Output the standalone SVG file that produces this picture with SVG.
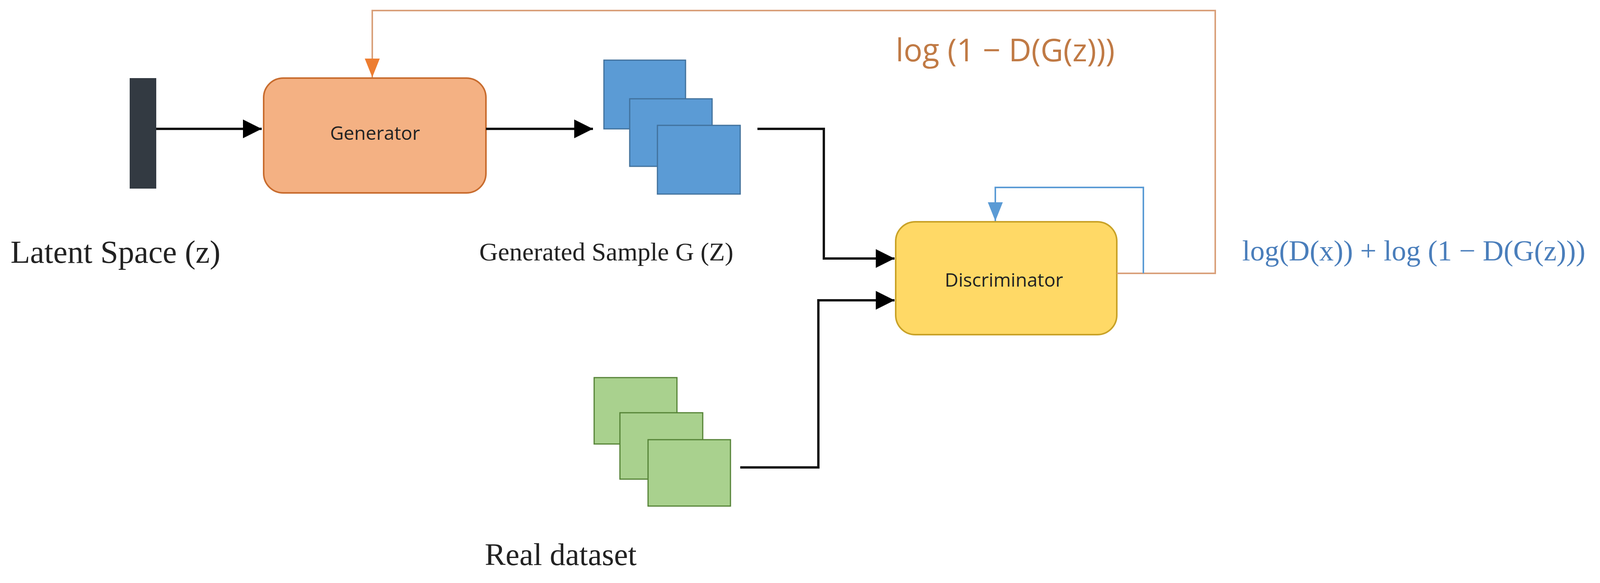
<svg xmlns="http://www.w3.org/2000/svg" width="4306" height="1493" viewBox="0 0 4306 1493">
<defs>
<style>
.serif{font-family:"Liberation Serif","DejaVu Serif",serif;fill:#222}
.sans{font-family:"Open Sans","Liberation Sans",sans-serif}
.blk{fill:none;stroke:#111;stroke-width:6}
</style>
<marker id="ab" viewBox="0 0 10 10" refX="10" refY="5" markerWidth="8" markerHeight="8" markerUnits="strokeWidth" orient="auto"><path d="M0,0L10,5L0,10z" fill="#000"/></marker>
<marker id="ao" viewBox="0 0 10 10" refX="10" refY="5" markerWidth="12" markerHeight="12" markerUnits="strokeWidth" orient="auto"><path d="M0,1L10,5L0,9z" fill="#ed7d31"/></marker>
<marker id="al" viewBox="0 0 10 10" refX="10" refY="5" markerWidth="12" markerHeight="12" markerUnits="strokeWidth" orient="auto"><path d="M0,1L10,5L0,9z" fill="#5b9bd5"/></marker>
</defs>
<rect width="4306" height="1493" fill="#fff"/>
<g id="latent"><rect x="332" y="200" width="68" height="283" fill="#333a42"/>
<text class="serif" x="27" y="673" font-size="82">Latent Space (z)</text></g>
<g id="generator"><rect x="675" y="200" width="569" height="294" rx="50" fill="#f4b183" stroke="#c86c2e" stroke-width="4"/>
<text class="sans" x="960" y="358" font-size="48" text-anchor="middle" fill="#222">Generator</text></g>
<g id="generated" fill="#5b9bd5" stroke="#41719c" stroke-width="3">
<rect x="1546" y="154" width="209" height="176"/><rect x="1612" y="253" width="211" height="173"/><rect x="1683" y="321" width="212" height="176"/>
<text class="serif" x="1227" y="667" font-size="66" stroke="none">Generated Sample G (Z)</text></g>
<g id="real" fill="#a9d18e" stroke="#548235" stroke-width="3">
<rect x="1521" y="967" width="212" height="170"/><rect x="1587" y="1057" width="212" height="170"/><rect x="1659" y="1126" width="211" height="170"/>
<text class="serif" x="1241" y="1447" font-size="80" stroke="none">Real dataset</text></g>
<g id="discriminator"><rect x="2293" y="568" width="566" height="289" rx="50" fill="#ffd966" stroke="#c9a227" stroke-width="4"/>
<text class="sans" x="2570" y="734" font-size="48" text-anchor="middle" fill="#222">Discriminator</text></g>
<g id="connectors">
<path class="blk" d="M400,330H670" marker-end="url(#ab)"/>
<path class="blk" d="M1244,330H1518" marker-end="url(#ab)"/>
<path class="blk" d="M1939,330H2109V662H2290" marker-end="url(#ab)"/>
<path class="blk" d="M1895,1197H2095V769H2290" marker-end="url(#ab)"/>
<path d="M2859,700H3111V27H953V198" fill="none" stroke="#d9a07a" stroke-width="4" marker-end="url(#ao)"/>
<path d="M2927,700V480H2548V566" fill="none" stroke="#5b9bd5" stroke-width="4" marker-end="url(#al)"/>
</g>
<text class="sans" x="2293" y="157" font-size="80" fill="#c07a45">log (1 − D(G(z)))</text>
<text x="3180" y="667" font-size="74" style="font-family:'Liberation Serif','DejaVu Serif',serif;fill:#4a7ebb">log(D(x)) + log (1 − D(G(z)))</text>
</svg>
